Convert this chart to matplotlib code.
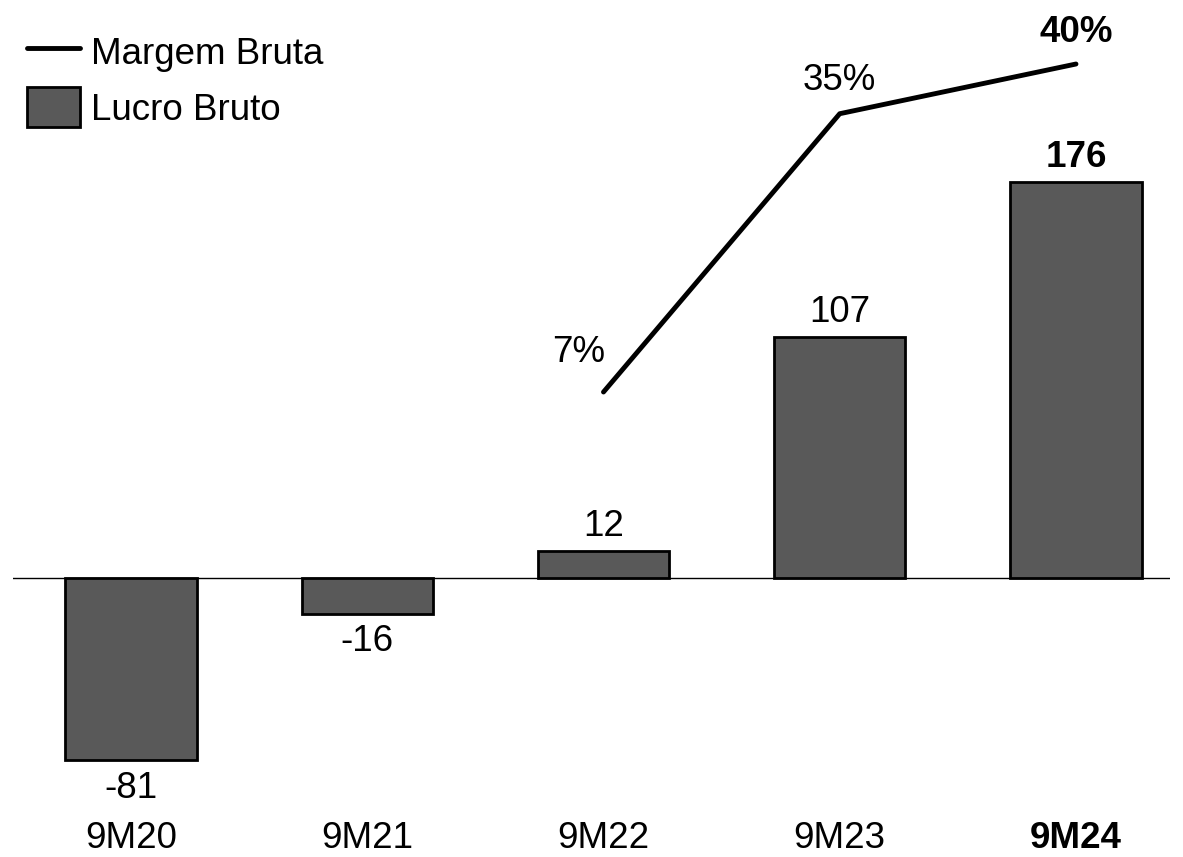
import matplotlib.pyplot as plt
from matplotlib.lines import Line2D
from matplotlib.patches import Patch

plt.rcParams['font.family'] = ['Liberation Sans', 'DejaVu Sans']

# data
periods = ['9M20', '9M21', '9M22', '9M23', '9M24']
lucro_bruto = [-81, -16, 12, 107, 176]
margem_periods = ['9M22', '9M23', '9M24']
margem_bruta = [7, 35, 40]

bar_color = '#595959'
fs = 26.5

fig = plt.figure(figsize=(11.83, 8.57), dpi=100)
ax = fig.add_axes([13 / 1183, 0, (1170 - 13) / 1183, 1])
x = list(range(len(periods)))
ax.bar(x, lucro_bruto, width=0.555, color=bar_color, edgecolor='black', linewidth=2, zorder=2)
ax.axhline(0, color='black', linewidth=1, zorder=1)
ax.set_xlim(-0.4995, 4.398)
ax.set_ylim(-124, 256.9)
ax.axis('off')

# value labels on the bars
for i, v in enumerate(lucro_bruto):
    bold = 'bold' if i == len(periods) - 1 else 'normal'
    if v >= 0:
        ax.annotate(str(v), (i, v), xytext=(0, 18), textcoords='offset points',
                    ha='center', va='center', fontsize=fs, fontweight=bold)
    else:
        ax.annotate(str(v), (i, v), xytext=(0, -20), textcoords='offset points',
                    ha='center', va='center', fontsize=fs, fontweight=bold)

# category labels
for i, p in enumerate(periods):
    bold = 'bold' if i == len(periods) - 1 else 'normal'
    ax.text(i, 1 - 838 / 857, p, transform=ax.get_xaxis_transform(),
            ha='center', va='center', fontsize=fs, fontweight=bold)

# margin line on its own scale
ax2 = ax.twinx()
ax2.set_ylim(-39.78, 46.44)
ax2.axis('off')
mx = [periods.index(p) for p in margem_periods]
ax2.plot(mx, margem_bruta, color='black', linewidth=3.5, solid_capstyle='round', zorder=3)
offsets = [(-18, 28.5), (0, 24), (0, 22.5)]
for j, (xi, m) in enumerate(zip(mx, margem_bruta)):
    bold = 'bold' if j == len(margem_bruta) - 1 else 'normal'
    ax2.annotate(f'{m}%', (xi, m), xytext=offsets[j], textcoords='offset points',
                 ha='center', va='center', fontsize=fs, fontweight=bold)

handles = [Line2D([], [], color='black', linewidth=3.5, solid_capstyle='round'),
           Patch(facecolor=bar_color, edgecolor='black', linewidth=2)]
fig.legend(handles, ['Margem Bruta', 'Lucro Bruto'], loc='upper left',
           bbox_to_anchor=(27 / 1183, 1 - 32 / 857), frameon=False, fontsize=fs,
           handlelength=1.45, handleheight=1.3, handletextpad=0.3, labelspacing=0.4,
           borderpad=0, borderaxespad=0)

fig.savefig('out.png', dpi=100)
